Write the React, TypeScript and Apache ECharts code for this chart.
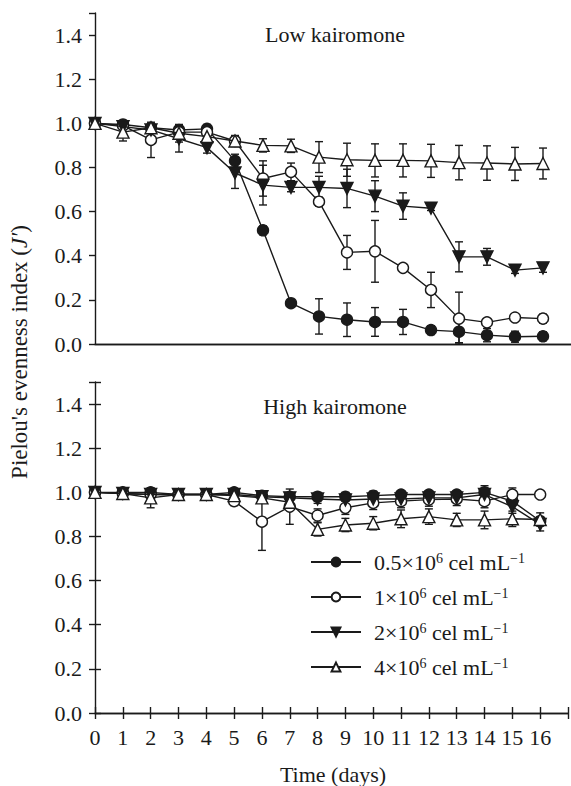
import React, { useEffect, useRef } from 'react';
import * as echarts from 'echarts';

const FONT = 'Liberation Serif';
const INK = '#1a1a1a';

const days = [0, 1, 2, 3, 4, 5, 6, 7, 8, 9, 10, 11, 12, 13, 14, 15, 16];
const xTickLabels = ['0', '1', '2', '3', '4', '5', '6', '7', '8', '9', '10', '11', '12', '13', '14', '15', '16'];
const yTickLabels = ['0.0', '0.2', '0.4', '0.6', '0.8', '1.0', '1.2', '1.4'];

const seriesKeys = ['c05', 'c1', 'c2', 'c4'];
const legendLabels: Record<string, string> = {
  c05: '0.5×10{sup|6} cel mL{sup|−1}',
  c1: '1×10{sup|6} cel mL{sup|−1}',
  c2: '2×10{sup|6} cel mL{sup|−1}',
  c4: '4×10{sup|6} cel mL{sup|−1}',
};
const panelTitles = ['Low kairomone', 'High kairomone'];

// Low kairomone
const lowC05 = [1.0, 0.995, 0.98, 0.97, 0.975, 0.83, 0.515, 0.185, 0.125, 0.11, 0.1, 0.1, 0.063, 0.056, 0.04, 0.033, 0.035];
const lowC05Err = [0, 0.01, 0.01, 0.02, 0.02, 0.03, 0.02, 0.01, 0.08, 0.076, 0.065, 0.057, 0.02, 0.05, 0.03, 0.025, 0.02];
const lowC1 = [1.0, 0.99, 0.925, 0.96, 0.96, 0.92, 0.75, 0.78, 0.645, 0.415, 0.42, 0.345, 0.245, 0.115, 0.098, 0.12, 0.115];
const lowC1Err = [0, 0.01, 0.08, 0.03, 0.02, 0.02, 0.08, 0.04, 0.02, 0.077, 0.14, 0.01, 0.08, 0.12, 0.01, 0.015, 0.02];
const lowC2 = [1.0, 0.985, 0.97, 0.93, 0.89, 0.775, 0.72, 0.71, 0.71, 0.705, 0.67, 0.625, 0.615, 0.395, 0.395, 0.335, 0.345];
const lowC2Err = [0, 0.01, 0.01, 0.06, 0.025, 0.07, 0.09, 0.02, 0.05, 0.087, 0.07, 0.06, 0.01, 0.068, 0.038, 0.015, 0.02];
const lowC4 = [1.0, 0.96, 0.98, 0.955, 0.94, 0.92, 0.9, 0.898, 0.847, 0.835, 0.832, 0.832, 0.83, 0.822, 0.82, 0.816, 0.818];
const lowC4Err = [0, 0.04, 0.01, 0.04, 0.02, 0.025, 0.03, 0.03, 0.07, 0.075, 0.075, 0.075, 0.075, 0.078, 0.078, 0.075, 0.07];

// High kairomone
const highC05 = [1.0, 1.0, 1.0, 0.99, 0.99, 1.0, 0.985, 0.98, 0.98, 0.98, 0.985, 0.99, 0.99, 0.99, 1.0, 0.96, 0.87];
const highC05Err = [0, 0.005, 0.01, 0.01, 0.01, 0.01, 0.01, 0.015, 0.02, 0.02, 0.02, 0.015, 0.015, 0.015, 0.03, 0.02, 0.02];
const highC1 = [1.0, 0.995, 0.99, 0.99, 0.99, 0.96, 0.867, 0.935, 0.895, 0.93, 0.952, 0.96, 0.967, 0.97, 0.96, 0.99, 0.99];
const highC1Err = [0, 0.005, 0.01, 0.01, 0.01, 0.02, 0.13, 0.08, 0.03, 0.03, 0.03, 0.03, 0.03, 0.03, 0.03, 0.03, 0.01];
const highC2 = [1.0, 0.995, 0.99, 0.99, 0.99, 0.99, 0.98, 0.975, 0.97, 0.965, 0.97, 0.97, 0.975, 0.975, 0.99, 0.935, 0.855];
const highC2Err = [0, 0.005, 0.01, 0.01, 0.01, 0.01, 0.01, 0.015, 0.02, 0.02, 0.02, 0.02, 0.02, 0.02, 0.03, 0.03, 0.03];
const highC4 = [1.0, 0.995, 0.975, 0.99, 0.99, 0.985, 0.975, 0.955, 0.832, 0.852, 0.86, 0.88, 0.89, 0.875, 0.875, 0.88, 0.877];
const highC4Err = [0, 0.005, 0.045, 0.01, 0.01, 0.01, 0.02, 0.02, 0.03, 0.03, 0.03, 0.04, 0.035, 0.03, 0.04, 0.035, 0.03];

const panels = [
  { values: [lowC05, lowC1, lowC2, lowC4], errors: [lowC05Err, lowC1Err, lowC2Err, lowC4Err] },
  { values: [highC05, highC1, highC2, highC4], errors: [highC05Err, highC1Err, highC2Err, highC4Err] },
];

const markerStyles = [
  { symbol: 'circle', size: 11, fill: INK, rotate: 0 },
  { symbol: 'circle', size: 11, fill: '#ffffff', rotate: 0 },
  { symbol: 'triangle', size: 12, fill: INK, rotate: 180 },
  { symbol: 'triangle', size: 12, fill: '#ffffff', rotate: 0 },
];

const LW = 1.4;

function buildOption() {
  const grids = [
    { left: 95, top: 13, width: 476, height: 331 },
    { left: 95, top: 382, width: 476, height: 331 },
  ];
  const labelStyle = { fontFamily: FONT, fontSize: 22, color: INK };
  const axisLine = { show: true, lineStyle: { color: INK, width: LW } };
  const noTick = { show: false };
  const inTick = { show: true, inside: true, length: 6, lineStyle: { color: INK, width: LW } };

  const xBase = { type: 'value', min: 0, max: 17, interval: 1, splitLine: { show: false } };
  const xAxis = [
    { ...xBase, gridIndex: 0, position: 'bottom', axisLine, axisTick: noTick, axisLabel: { show: false } },
    { ...xBase, gridIndex: 0, position: 'top', axisLine, axisTick: noTick, axisLabel: { show: false } },
    {
      ...xBase, gridIndex: 1, position: 'bottom', axisLine, axisTick: inTick,
      axisLabel: { show: true, margin: 13, ...labelStyle, formatter: (v: number) => xTickLabels[Math.round(v)] ?? '' },
    },
    { ...xBase, gridIndex: 1, position: 'top', axisLine, axisTick: inTick, axisLabel: { show: false } },
  ];
  const yBase = { type: 'value', min: 0, max: 1.5, interval: 0.2, splitLine: { show: false } };
  const yLabel = {
    show: true, margin: 13, ...labelStyle,
    formatter: (v: number) => (v > 1.45 ? '' : yTickLabels[Math.round(v / 0.2)] ?? ''),
  };
  const yAxis = [
    { ...yBase, gridIndex: 0, position: 'left', axisLine, axisTick: noTick, axisLabel: yLabel },
    { ...yBase, gridIndex: 0, position: 'right', axisLine: { show: false }, axisTick: inTick, axisLabel: { show: false } },
    { ...yBase, gridIndex: 1, position: 'left', axisLine, axisTick: inTick, axisLabel: yLabel },
    { ...yBase, gridIndex: 1, position: 'right', axisLine: { show: false }, axisTick: inTick, axisLabel: { show: false } },
  ];

  const series: any[] = [];
  panels.forEach((panel, p) => {
    const axisIdx = p * 2;
    panel.values.forEach((vals, k) => {
      const errs = panel.errors[k];
      series.push({
        type: 'custom',
        xAxisIndex: axisIdx,
        yAxisIndex: axisIdx,
        silent: true,
        z: 2,
        encode: { x: 0, y: 1 },
        data: days.map((d, i) => [d, vals[i], errs[i]]),
        renderItem: (_params: any, api: any) => {
          const x = api.value(0);
          const y = api.value(1);
          const e = api.value(2);
          if (!e) return null;
          const top = api.coord([x, y + e]);
          const bot = api.coord([x, Math.max(0, y - e)]);
          const hw = 4;
          const style = { stroke: INK, lineWidth: LW };
          return {
            type: 'group',
            children: [
              { type: 'line', shape: { x1: top[0], y1: top[1], x2: bot[0], y2: bot[1] }, style },
              { type: 'line', shape: { x1: top[0] - hw, y1: top[1], x2: top[0] + hw, y2: top[1] }, style },
              { type: 'line', shape: { x1: bot[0] - hw, y1: bot[1], x2: bot[0] + hw, y2: bot[1] }, style },
            ],
          };
        },
      });
    });
    panel.values.forEach((vals, k) => {
      const m = markerStyles[k];
      series.push({
        type: 'line',
        name: seriesKeys[k],
        xAxisIndex: axisIdx,
        yAxisIndex: axisIdx,
        data: days.map((d, i) => [d, vals[i]]),
        symbol: m.symbol,
        symbolSize: m.size,
        symbolRotate: m.rotate,
        showSymbol: true,
        showAllSymbol: true,
        z: 3 + k,
        silent: true,
        lineStyle: { color: INK, width: LW },
        itemStyle: { color: m.fill, borderColor: INK, borderWidth: LW },
        emphasis: { disabled: true },
      });
    });
  });

  return {
    animation: false,
    backgroundColor: '#ffffff',
    grid: grids,
    xAxis,
    yAxis,
    legend: {
      data: seriesKeys,
      orient: 'vertical',
      left: 310,
      top: 551,
      padding: 0,
      itemWidth: 50,
      itemHeight: 11,
      itemGap: 13,
      selectedMode: false,
      formatter: (n: string) => legendLabels[n],
      textStyle: {
        fontFamily: FONT,
        fontSize: 22,
        color: INK,
        lineHeight: 22,
        padding: [0, 0, 0, 8],
        rich: {
          sup: { fontFamily: FONT, fontSize: 14, color: INK, lineHeight: 10, verticalAlign: 'top' },
        },
      },
    },
    graphic: [
      {
        type: 'text', x: 335, y: 34,
        style: { text: panelTitles[0], fontFamily: FONT, fontSize: 22, fill: INK, align: 'center', verticalAlign: 'middle' },
      },
      {
        type: 'text', x: 335, y: 406,
        style: { text: panelTitles[1], fontFamily: FONT, fontSize: 22, fill: INK, align: 'center', verticalAlign: 'middle' },
      },
      {
        type: 'text', x: 333, y: 774,
        style: { text: 'Time (days)', fontFamily: FONT, fontSize: 22, fill: INK, align: 'center', verticalAlign: 'middle' },
      },
      {
        type: 'text', x: 19, y: 352, rotation: Math.PI / 2,
        style: {
          text: "Pielou's evenness index ({it|J′})",
          fontFamily: FONT, fontSize: 23, fill: INK, align: 'center', verticalAlign: 'middle',
          rich: { it: { fontFamily: FONT, fontSize: 23, fontStyle: 'italic', fill: INK } },
        },
      },
    ],
    series,
  };
}

export default function App() {
  const ref = useRef<HTMLDivElement>(null);
  useEffect(() => {
    if (!ref.current) return;
    const chart = echarts.init(ref.current, null, { renderer: 'svg' });
    chart.setOption(buildOption() as any);
    return () => chart.dispose();
  }, []);
  return (
    <div
      ref={ref}
      style={{ position: 'absolute', left: 0, top: 0, width: 571, height: 786, background: '#fff' }}
    />
  );
}
